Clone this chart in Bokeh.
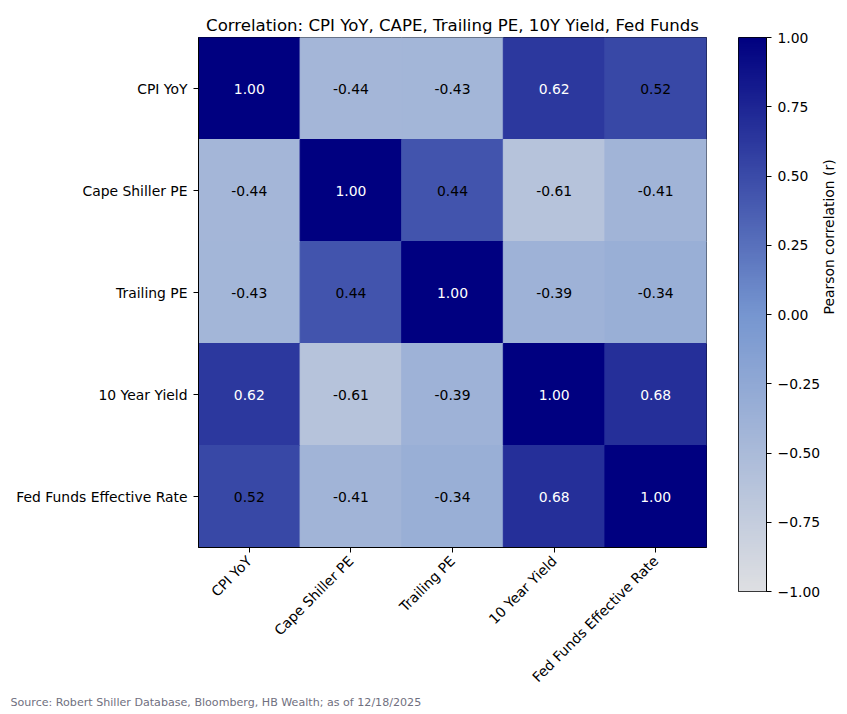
import numpy as np
from bokeh.plotting import figure
from bokeh.models import (ColumnDataSource, LinearColorMapper, FixedTicker, FactorRange,
                          Range1d, Title)
from bokeh.layouts import row
from bokeh.core.properties import value
from bokeh.embed import file_html
from bokeh.resources import INLINE

labels = ["CPI YoY", "Cape Shiller PE", "Trailing PE", "10 Year Yield", "Fed Funds Effective Rate"]
row_cpi = [1.00, -0.44, -0.43, 0.62, 0.52]
row_cape = [-0.44, 1.00, 0.44, -0.61, -0.41]
row_trail = [-0.43, 0.44, 1.00, -0.39, -0.34]
row_10y = [0.62, -0.61, -0.39, 1.00, 0.68]
row_fed = [0.52, -0.41, -0.34, 0.68, 1.00]
cbar_ticks = [-1.0, -0.75, -0.5, -0.25, 0.0, 0.25, 0.5, 0.75, 1.0]

title = "Correlation: CPI YoY, CAPE, Trailing PE, 10Y Yield, Fed Funds"
source_note = "Source: Robert Shiller Database, Bloomberg, HB Wealth; as of 12/18/2025"
cbar_label = "Pearson correlation (r)"

# palette: light gray -> mid blue -> navy
stops = [(222, 223, 226), (118, 150, 208), (0, 0, 128)]
pal = []
for i in range(256):
    t = i / 255 * 2
    k = 0 if t < 1 else 1
    f = t - k
    c = [round(stops[k][j] + (stops[k + 1][j] - stops[k][j]) * f) for j in range(3)]
    pal.append("#%02x%02x%02x" % tuple(c))
mapper = LinearColorMapper(palette=pal, low=-1, high=1)

matrix = [row_cpi, row_cape, row_trail, row_10y, row_fed]
xs, ys, vals, txt, tcol = [], [], [], [], []
for r, rv in zip(labels, matrix):
    for c, v in zip(labels, rv):
        xs.append(c)
        ys.append(r)
        vals.append(v)
        txt.append("%.2f" % v)
        tcol.append("white" if v >= 0.6 else "black")
src = ColumnDataSource(dict(x=xs, y=ys, v=vals, t=txt, tc=tcol))

FONT = "DejaVu Sans"
FS = "13.9px"
p = figure(width=730, height=702, x_range=FactorRange(*labels), y_range=FactorRange(*labels[::-1]),
           output_backend="svg", toolbar_location=None, min_border_left=198, min_border_right=24,
           min_border_top=37, min_border_bottom=155)
p.frame_width = 508
p.frame_height = 510
p.rect(x="x", y="y", width=1, height=1, source=src,
       line_color={"field": "v", "transform": mapper}, line_width=1,
       fill_color={"field": "v", "transform": mapper})
p.text(x="x", y="y", text="t", source=src, text_color="tc", text_align="center",
       text_baseline="middle", text_font=value(FONT), text_font_size=FS)
p.title.text = title
p.title.align = "center"
p.title.text_font = FONT
p.title.text_font_size = "16.6px"
p.title.text_font_style = "normal"
p.title.text_color = "black"
p.title.offset = 0
p.title.standoff = 6
p.xgrid.visible = False
p.ygrid.visible = False
p.outline_line_color = "black"
p.outline_line_width = 1
for ax in (p.xaxis[0], p.yaxis[0]):
    ax.axis_line_color = "black"
    ax.major_tick_line_color = "black"
    ax.major_tick_out = 5
    ax.major_tick_in = 0
    ax.minor_tick_line_color = None
    ax.major_label_text_font = FONT
    ax.major_label_text_font_size = FS
    ax.major_label_text_color = "black"
    ax.major_label_standoff = 6
p.xaxis.major_label_orientation = np.pi / 4
note = Title(text=source_note, align="left", offset=-188, text_font=FONT,
             text_font_size="11.1px", text_font_style="normal", text_color="#707080",
             standoff=0)
p.add_layout(note, "below")

# colorbar as its own figure
cb = figure(width=109, height=702, x_range=Range1d(0, 1), y_range=Range1d(-1, 1),
            output_backend="svg", toolbar_location=None, min_border_left=8, min_border_right=73,
            min_border_top=15, min_border_bottom=133, y_axis_location="right")
cb.title.visible = False
cb.frame_width = 28
cb.frame_height = 554
grad = np.linspace(-1, 1, 256).reshape(256, 1)
cb.image(image=[grad], x=0, y=-1, dw=1, dh=2, color_mapper=mapper)
cb.xaxis.visible = False
cb.xgrid.visible = False
cb.ygrid.visible = False
cb.outline_line_color = "black"
ya = cb.yaxis[0]
ya.ticker = FixedTicker(ticks=cbar_ticks)
ya.major_label_overrides = {t: ("%.2f" % t).replace("-", "\u2212") for t in cbar_ticks}
ya.axis_line_color = "black"
ya.major_tick_out = 5
ya.major_tick_in = 0
ya.minor_tick_line_color = None
ya.major_label_text_font = FONT
ya.major_label_text_font_size = FS
ya.major_label_text_color = "black"
ya.major_label_standoff = 6
ya.axis_label = cbar_label
ya.axis_label_orientation = np.pi / 2
ya.axis_label_text_font = FONT
ya.axis_label_text_font_size = FS
ya.axis_label_text_font_style = "normal"
ya.axis_label_text_color = "black"
ya.axis_label_standoff = 6

layout = row(p, cb, spacing=0)
open("out.html", "w").write(file_html(layout, INLINE))
